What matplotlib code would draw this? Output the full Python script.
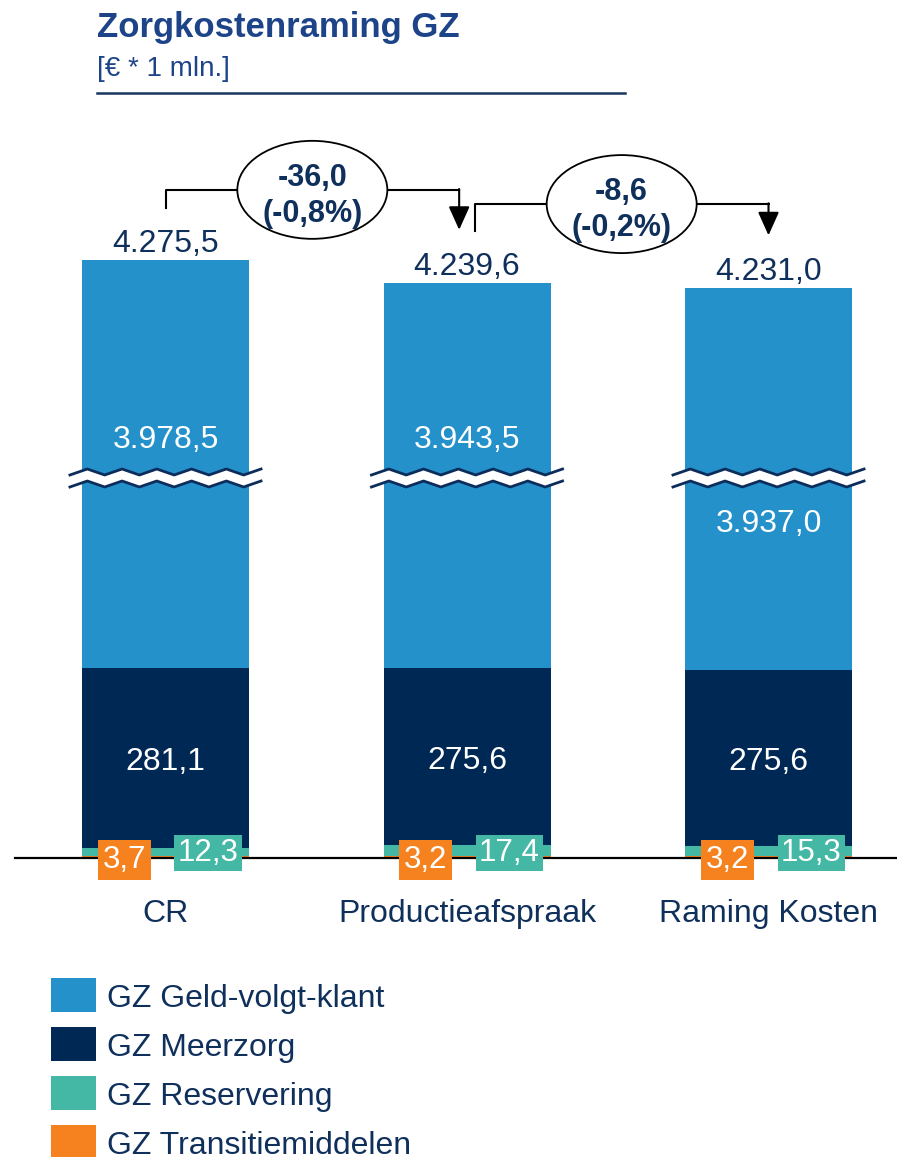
import numpy as np
import matplotlib
matplotlib.use("Agg")
import matplotlib.pyplot as plt
from matplotlib.patches import Ellipse, Rectangle

plt.rcParams['font.family'] = ['Liberation Sans', 'DejaVu Sans']

# data (€ * 1 mln.)
categories = ["CR", "Productieafspraak", "Raming Kosten"]
transitie = [3.7, 3.2, 3.2]
reservering = [12.3, 17.4, 15.3]
meerzorg = [281.1, 275.6, 275.6]
geld_volgt_klant = [3978.5, 3943.5, 3937.0]
totals = [4275.5, 4239.6, 4231.0]
delta_abs = [-36.0, -8.6]
delta_pct = [-0.8, -0.2]
series_names = ["GZ Geld-volgt-klant", "GZ Meerzorg", "GZ Reservering", "GZ Transitiemiddelen"]

C_GVK = "#2491cb"
C_MZ = "#002855"
C_RES = "#45b8a5"
C_TR = "#f5821f"
NAVY = "#10305c"
TITLE = "#1d4489"

CUT = 3341          # part of the axis that is cut away (broken bar)
PY = 0.64           # pixels per value unit
W, H = 897, 1157
BASE = 858          # baseline in pixels from top
TS = 4              # text shift down (px)


def fmt(v, dec=1):
    s = f"{v:,.{dec}f}"
    return s.replace(",", "X").replace(".", ",").replace("X", ".")


def dy(px):
    return px / PY


fig = plt.figure(figsize=(W / 100, H / 100), dpi=100)
ax = fig.add_axes([0, 0, 1, 1])
ax.set_xlim(-165.5 / 301.5, (W - 165.5) / 301.5)
ax.set_ylim((BASE - H) / PY, BASE / PY)
ax.axis("off")

x = np.arange(len(categories))
bw = 167 / 301.5
tr = np.array(transitie)
rs = np.array(reservering)
mz = np.array(meerzorg)
gv = np.array(geld_volgt_klant)

ax.bar(x, tr, bw, color=C_TR, zorder=2)
ax.bar(x, rs, bw, bottom=tr, color=C_RES, zorder=2)
ax.bar(x, mz, bw, bottom=tr + rs, color=C_MZ, zorder=2)
gv_bottom = tr + rs + mz
ax.bar(x, gv - CUT, bw, bottom=gv_bottom, color=C_GVK, zorder=2)
tops = gv_bottom + gv - CUT

# baseline
ax.axhline(0, xmin=15 / W, xmax=1, color="black", lw=1.6, zorder=3)

# break marks
brk = dy(BASE - 478)
amp = dy(3)
gap = dy(6)
for xi in x:
    xs = np.linspace(xi - bw / 2 - 0.04, xi + bw / 2 + 0.04, 12)
    wave = np.array([amp if k % 2 else -amp for k in range(len(xs))])
    ax.fill_between(xs, brk - gap + wave, brk + gap + wave, color="white", lw=0, zorder=3)
    ax.plot(xs, brk + gap + wave, color="#0c2d5c", lw=2, zorder=4)
    ax.plot(xs, brk - gap + wave, color="#0c2d5c", lw=2, zorder=4)

# labels in bars
gvk_side = [1, 1, -1]
for i in x:
    ax.text(i, brk + gvk_side[i] * dy(42) - dy(TS), fmt(gv[i]), ha="center", va="center",
            color="white", fontsize=23, zorder=5)
    ax.text(i, tr[i] + rs[i] + mz[i] / 2 - dy(TS), fmt(mz[i]), ha="center", va="center",
            color="white", fontsize=23, zorder=5)
    ax.text(i, tops[i] + dy(20 - TS), fmt(totals[i]), ha="center", va="center",
            color=NAVY, fontsize=23, zorder=5)
    ax.text(i - 0.137, dy(-2), fmt(tr[i]), ha="center", va="center", color="white",
            fontsize=22.5, zorder=6,
            bbox=dict(boxstyle="square,pad=0.15", fc=C_TR, ec="none"))
    ax.text(i + 0.141, dy(5), fmt(rs[i]), ha="center", va="center", color="white",
            fontsize=22.5, zorder=6,
            bbox=dict(boxstyle="square,pad=0.1", fc=C_RES, ec="none"))
    ax.text(i, dy(-52 - TS), categories[i], ha="center", va="center", color=NAVY,
            fontsize=23, zorder=5)

# change brackets
off = 0.026
for i in range(len(delta_abs)):
    xs0 = i + (off if i == 1 else 0)
    xe0 = i + 1 - (off if i + 1 == 1 else 0)
    ys0 = tops[i] + dy(52)
    ye0 = tops[i + 1] + dy(53)
    yh = (ys0 + ye0) / 2 + dy(29)
    ax.plot([xs0, xs0, xe0], [ys0, yh, yh], color="black", lw=1.5, zorder=5)
    ax.annotate("", xy=(xe0, ye0), xytext=(xe0, yh + dy(0.8)),
                arrowprops=dict(arrowstyle="-|>,head_length=0.6,head_width=0.27",
                                mutation_scale=24, color="black",
                                lw=1.5, shrinkA=0, shrinkB=0), zorder=5)
    xm = (xs0 + xe0) / 2
    ax.add_patch(Ellipse((xm, yh), 150 / 301.5, dy(98), fc="white", ec="black",
                         lw=1.3, zorder=6))
    ax.text(xm, yh - dy(6), f"{fmt(delta_abs[i])}\n({fmt(delta_pct[i])}%)", ha="center",
            va="center", color=NAVY, fontsize=22, fontweight="bold",
            linespacing=1.25, zorder=7)

# title
fig.text(97 / W, 1 - 27 / H, "Zorgkostenraming GZ", color=TITLE, fontsize=25,
         fontweight="bold", va="center", ha="left")
fig.text(97 / W, 1 - 69 / H, "[€ * 1 mln.]", color=TITLE, fontsize=20,
         va="center", ha="left")
fig.add_artist(plt.Line2D([97 / W, 625 / W], [1 - 93 / H, 1 - 93 / H],
                          color="#17375e", lw=1.8))

# legend
for k, (name, col) in enumerate(zip(series_names, [C_GVK, C_MZ, C_RES, C_TR])):
    top = 978 + 49 * k
    fig.add_artist(Rectangle((51 / W, 1 - (top + 34) / H), 45 / W, 34 / H,
                             fc=col, ec="none", transform=fig.transFigure))
    fig.text(107 / W, 1 - (top + 17 + TS) / H, name, color=NAVY, fontsize=23,
             va="center", ha="left")

fig.savefig("out.png", dpi=100)
